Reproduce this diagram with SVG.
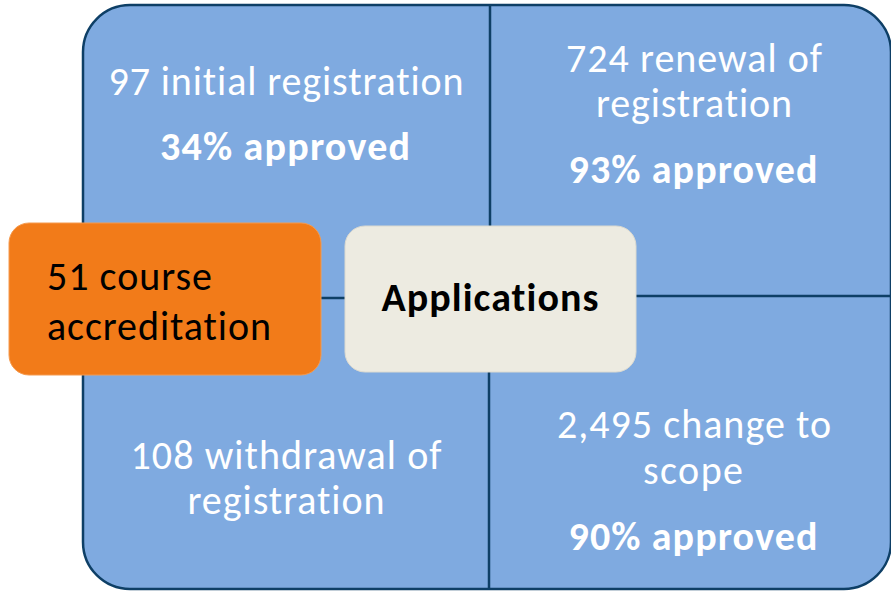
<svg xmlns="http://www.w3.org/2000/svg" width="891" height="591" viewBox="0 0 891 591">
<style>
  .lbl { font-family: Carlito, Lato, "Liberation Sans", sans-serif; font-size: 40px; fill: #ffffff; text-anchor: middle; font-variant-ligatures: none; }
  .bold { font-weight: bold; }
  .dark { fill: #000000; }
  .start { text-anchor: start; }
  .grid { stroke: #0E3F66; stroke-width: 2.5; fill: none; }
</style>
<rect width="891" height="591" fill="#ffffff"/>
<g id="background">
  <rect x="83" y="5" width="808" height="584" rx="47" ry="47" fill="#7FAAE0" stroke="#0E3F66" stroke-width="2.5"/>
</g>
<g id="connectors">
  <line class="grid" x1="490" y1="6" x2="490" y2="229"/>
  <line class="grid" x1="489" y1="370" x2="489" y2="588"/>
  <line class="grid" x1="84" y1="298" x2="347" y2="298"/>
  <line class="grid" x1="634" y1="296" x2="891" y2="296"/>
</g>
<g id="q-initial">
  <text class="lbl" x="286" y="95" textLength="355" lengthAdjust="spacing">97 initial registration</text>
  <text class="lbl bold" x="285" y="160" textLength="250" lengthAdjust="spacing">34% approved</text>
</g>
<g id="q-renewal">
  <text class="lbl" x="694" y="72" textLength="256" lengthAdjust="spacing">724 renewal of</text>
  <text class="lbl" x="694" y="117" textLength="196" lengthAdjust="spacing">registration</text>
  <text class="lbl bold" x="693" y="183" textLength="249" lengthAdjust="spacing">93% approved</text>
</g>
<g id="q-withdrawal">
  <text class="lbl" x="286" y="469" textLength="311" lengthAdjust="spacing">108 withdrawal of</text>
  <text class="lbl" x="286" y="514" textLength="197" lengthAdjust="spacing">registration</text>
</g>
<g id="q-scope">
  <text class="lbl" x="694" y="438" textLength="274" lengthAdjust="spacing">2,495 change to</text>
  <text class="lbl" x="693" y="484" textLength="100" lengthAdjust="spacing">scope</text>
  <text class="lbl bold" x="693" y="550" textLength="249" lengthAdjust="spacing">90% approved</text>
</g>
<g id="course">
  <rect x="9" y="223" width="312" height="152" rx="20" ry="20" fill="#F27B19" stroke="#F59A4E" stroke-width="1"/>
  <text class="lbl dark start" x="47" y="290" textLength="165" lengthAdjust="spacing">51 course</text>
  <text class="lbl dark start" x="47" y="340" textLength="224" lengthAdjust="spacing">accreditation</text>
</g>
<g id="applications">
  <rect x="345" y="226" width="291" height="146" rx="20" ry="20" fill="#EDEBE1" stroke="#DCDAD0" stroke-width="1"/>
  <text class="lbl bold dark" x="490" y="311" textLength="217" lengthAdjust="spacing">Applications</text>
</g>
</svg>
